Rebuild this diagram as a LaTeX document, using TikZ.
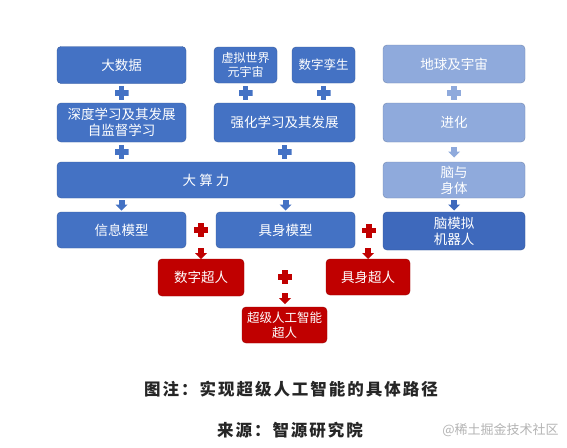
\documentclass[tikz,border=0pt]{standalone}
\usepackage{fontspec}
\usepackage{tikz}
\usetikzlibrary{calc}
\newfontfamily\cjk{Noto Sans CJK SC}
\newfontfamily\cjkwide[LetterSpace=12]{Noto Sans CJK SC}
\definecolor{pathblue}{HTML}{4472C4}
\definecolor{pathlight}{HTML}{8FAADC}
\definecolor{pathdark}{HTML}{3E69BC}
\definecolor{pathred}{HTML}{C00000}
\definecolor{markgray}{HTML}{B4B4B4}

\begin{document}
\begin{tikzpicture}[x=1pt, y=-1pt,
  box/.style={draw=#1!80!black, fill=#1, rounded corners=4pt, text=white,
              align=center, inner sep=1pt, font=\cjk\fontsize{13.5}{16}\selectfont},
  box/.default=pathblue,
  plusmark/.style={minimum size=14pt, inner sep=0pt, path picture={
    \fill[#1] ($(path picture bounding box.center)+(-7pt,-2.8pt)$) rectangle ++(14pt,5.6pt);
    \fill[#1] ($(path picture bounding box.center)+(-2.8pt,-7pt)$) rectangle ++(5.6pt,14pt);}},
  downarr/.style={minimum width=12pt, minimum height=11pt, inner sep=0pt, path picture={
    \fill[#1] ($(path picture bounding box.center)+(-3pt,5.5pt)$) rectangle ++(6pt,-5pt);
    \fill[#1] ($(path picture bounding box.center)+(-6pt,0.5pt)$) -- ++(12pt,0pt)
      -- ($(path picture bounding box.center)+(0pt,-5.5pt)$) -- cycle;}},
  caption/.style={font=\cjkwide\bfseries\fontsize{16.5}{18}\selectfont, text=black!85}]
\useasboundingbox (0,0) rectangle (567,447);
\fill[white] (0,0) rectangle (567,447);

\node[box, minimum width=129pt, minimum height=37pt] (bigdata) at (121.5,65) {大数据};
\node[box, minimum width=63pt, minimum height=36pt,
      font=\cjk\fontsize{12}{14}\selectfont] (meta) at (245.5,65) {虚拟世界\\元宇宙};
\node[box, minimum width=63pt, minimum height=36pt,
      font=\cjk\fontsize{12.5}{14}\selectfont] (twin) at (323.5,65) {数字孪生};
\node[box, minimum width=129pt, minimum height=39pt] (deep) at (121.5,122.5) {深度学习及其发展\\自监督学习};
\node[box, minimum width=141pt, minimum height=39pt] (reinf) at (284.5,122.5) {强化学习及其发展};
\node[box, minimum width=298pt, minimum height=36pt] (compute) at (206,180) {大 算 力};
\node[box, minimum width=129pt, minimum height=36pt] (info) at (121.5,230) {信息模型};
\node[box, minimum width=139pt, minimum height=36pt] (embody) at (285.5,230) {具身模型};

\node[box=pathlight, minimum width=142pt, minimum height=38pt] (earth) at (454,64) {地球及宇宙};
\node[box=pathlight, minimum width=142pt, minimum height=39pt] (evolve) at (454,122.5) {进化};
\node[box=pathlight, minimum width=142pt, minimum height=36pt] (brain) at (454,180) {脑与\\身体};
\node[box=pathdark, minimum width=142pt, minimum height=38pt] (robot) at (454,231) {脑模拟\\机器人};

\node[box=pathred, minimum width=86pt, minimum height=37pt] (digi) at (201,277.5) {数字超人};
\node[box=pathred, minimum width=84pt, minimum height=36pt] (embsup) at (368,277) {具身超人};
\node[box=pathred, minimum width=85pt, minimum height=36pt,
      font=\cjk\fontsize{12.5}{15}\selectfont] (agi) at (284.5,325) {超级人工智能\\超人};

\node[plusmark=pathblue] (p1) at ($(bigdata.south)!0.5!(deep.north)$) {};
\node[plusmark=pathblue] (p2) at (meta.south |- p1) {};
\node[plusmark=pathblue] (p3) at (twin.south |- p1) {};
\node[plusmark=pathblue] (p4) at ($(deep.south)!0.5!(compute.north -| deep.south)$) {};
\node[plusmark=pathblue] (p5) at (reinf.south |- p4) {};
\node[plusmark=pathlight] (p6) at ($(earth.south)!0.5!(evolve.north)$) {};
\node[downarr=pathlight] (a1) at ($(evolve.south)!0.5!(brain.north)$) {};
\node[downarr=pathdark] (a2) at ($(brain.south)!0.5!(robot.north)$) {};
\node[downarr=pathblue] (a3) at ($(compute.south -| info.north)!0.5!(info.north)$) {};
\node[downarr=pathblue] (a4) at (embody.north |- a3) {};

\node[plusmark=pathred] (p7) at ($(info.east)!0.5!(embody.west)$) {};
\node[downarr=pathred] (a5) at ($(info.south -| digi.north)!0.5!(digi.north)$) {};
\node[plusmark=pathred] (p8) at ($(embody.east)!0.5!(robot.west)$) {};
\node[downarr=pathred] (a6) at (embsup.north |- a5) {};
\node[plusmark=pathred] (p9) at ($(digi.east)!0.5!(embsup.west)$) {};
\node[downarr=pathred] (a7) at (285,298.5) {};

\node[caption] (note) at (291,389) {图注：实现超级人工智能的具体路径};
\node[caption] (source) at (290,430) {来源：智源研究院};
\node[font=\cjk\fontsize{13}{15}\selectfont, text=markgray] (mark) at (500.5,430) {@稀土掘金技术社区};
\end{tikzpicture}
\end{document}
